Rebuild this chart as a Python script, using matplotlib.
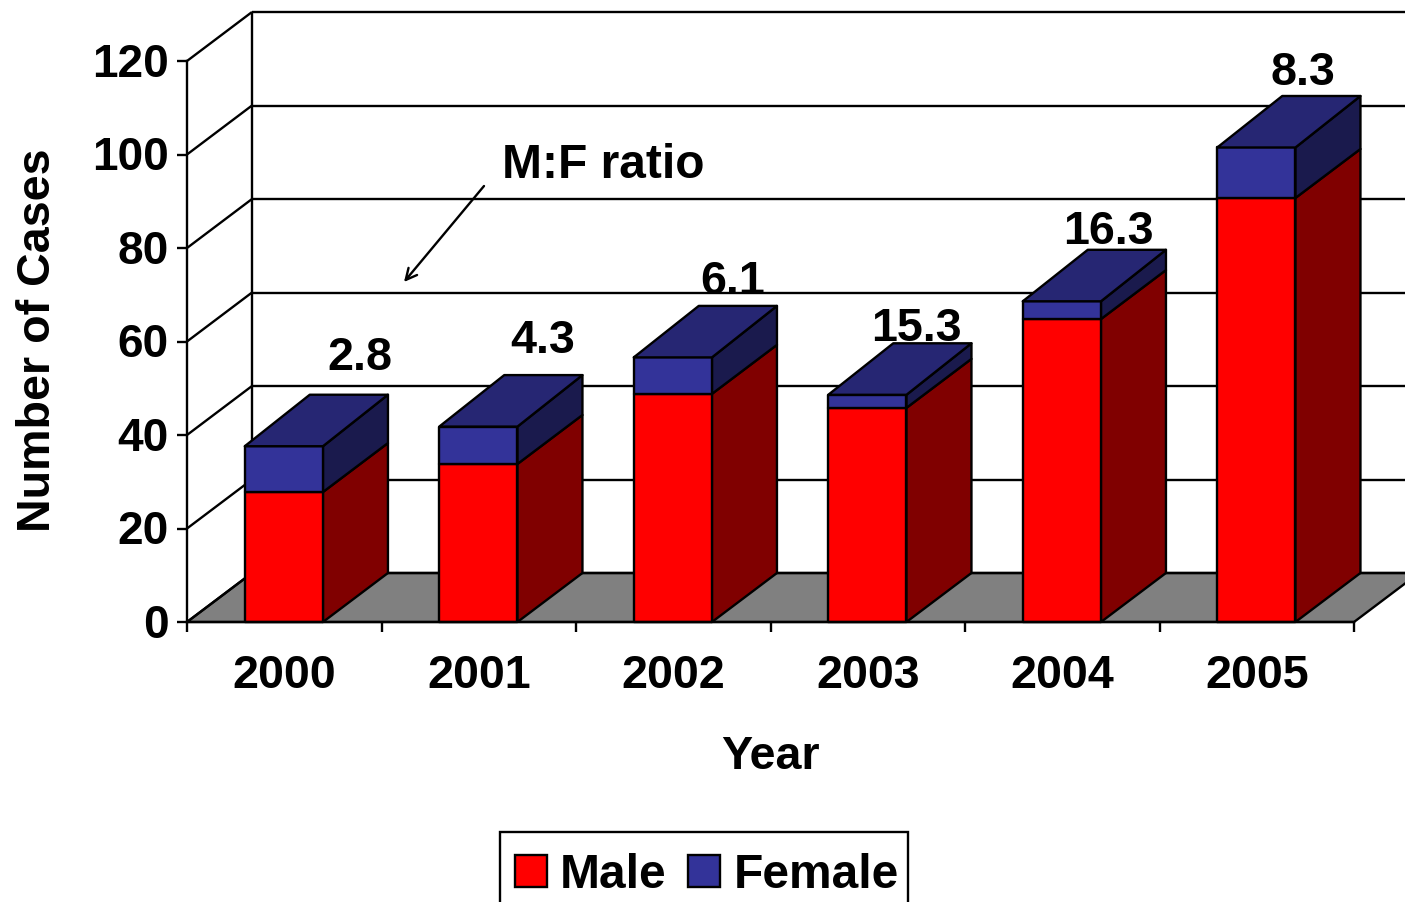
import matplotlib
matplotlib.use("Agg")
import matplotlib.pyplot as plt
from matplotlib.patches import Polygon, Patch, Rectangle
from matplotlib.transforms import ScaledTranslation

plt.rcParams['font.family'] = ['Liberation Sans', 'DejaVu Sans']
plt.rcParams['font.weight'] = 'bold'

years = ['2000', '2001', '2002', '2003', '2004', '2005']
male = [27.8, 33.8, 48.8, 45.8, 64.8, 90.7]
female = [9.8, 8, 7.8, 2.8, 3.8, 10.8]
ratios = ['2.8', '4.3', '6.1', '15.3', '16.3', '8.3']
y_ticks = [0, 20, 40, 60, 80, 100, 120]

W, H = 1405, 902
FS = 33.6
LW = 1.7
DX, DY = 65 / 194.5, 49 / 4.675
DY_TOP = 51.5 / 4.675
BAR_L, BAR_W = 0.297, 0.402
LABEL_X = [0.889, 0.829, 0.805, 0.75, 0.737, 0.738]
LABEL_DY = [18.8, 18.3, 16.2, 14.0, 14.8, 16.0]

fig = plt.figure(figsize=(W / 100, H / 100), dpi=100, facecolor='white')
ax = fig.add_axes([187 / W, (H - 622) / H, (1354 - 187) / W, 561 / H])
ax.set_xlim(0, 6)
ax.set_ylim(0, 120)
ax.patch.set_visible(False)
for s in ('top', 'right'):
    ax.spines[s].set_visible(False)
for s in ('left', 'bottom'):
    ax.spines[s].set_linewidth(LW)
    ax.spines[s].set_zorder(12)

ax.set_yticks(y_ticks)
ax.set_yticklabels([str(v) for v in y_ticks], fontsize=33, fontweight='bold')
ax.tick_params(axis='y', length=7, width=LW, pad=6)
for lab in ax.get_yticklabels():
    lab.set_transform(lab.get_transform() + ScaledTranslation(0, 0.8 / 72, fig.dpi_scale_trans))
ax.set_xticks(range(7))
ax.set_xticklabels([])
ax.tick_params(axis='x', length=7, width=LW)
ax.set_xticks([i + 0.5 for i in range(6)], minor=True)
ax.set_xticklabels(years, minor=True, fontsize=FS, fontweight='bold')
ax.tick_params(axis='x', which='minor', length=0, pad=23)


def poly(pts, fc, z):
    ax.add_patch(Polygon(pts, closed=True, facecolor=fc, edgecolor='black',
                         linewidth=LW, clip_on=False, zorder=z, joinstyle='round'))


def line(xs, ys, z=1):
    ax.plot(xs, ys, color='black', lw=LW, clip_on=False, zorder=z,
            solid_capstyle='butt')


# floor
poly([(0, 0), (DX, DY), (6 + DX, DY), (6, 0)], '#808080', 1)

# walls
for v in y_ticks:
    line([0, DX], [v, v + DY])
    line([DX, 6 + DX], [v + DY, v + DY])
line([DX, DX], [DY, 120 + DY])

# ratio labels, behind the bars
for i, r in enumerate(ratios):
    ax.text(i + LABEL_X[i], male[i] + female[i] + LABEL_DY[i], r, fontsize=FS,
            fontweight='bold', ha='center', va='center', zorder=2, clip_on=False)


def block(i, lo, hi, front, side, top, z):
    x0, x1 = i + BAR_L, i + BAR_L + BAR_W
    d_hi = DY_TOP if top else DY
    poly([(x1, lo), (x1 + DX, lo + DY), (x1 + DX, hi + d_hi), (x1, hi)], side, z)
    poly([(x0, lo), (x1, lo), (x1, hi), (x0, hi)], front, z)
    if top:
        poly([(x0, hi), (x0 + DX, hi + d_hi), (x1 + DX, hi + d_hi), (x1, hi)], top, z)


for i in range(6):
    z = 3 + i
    block(i, 0, male[i], '#FF0000', '#800000', None, z)
    block(i, male[i], male[i] + female[i], '#333399', '#1A1A4D', '#262673', z)

# text and arrow in figure pixels
fig.text(38 / W, 1 - 340 / H, 'Number of Cases', fontsize=FS, fontweight='bold',
         rotation=90, ha='center', va='center')
fig.text(770 / W, 1 - 757 / H, 'Year', fontsize=FS, fontweight='bold',
         ha='center', va='center')
fig.text(502 / W, 1 - 165 / H, 'M:F ratio', fontsize=34.5, fontweight='bold',
         ha='left', va='center')
ax.annotate('', xy=(404 / W, 1 - 282 / H), xytext=(484 / W, 1 - 186 / H),
            xycoords='figure fraction', textcoords='figure fraction',
            arrowprops=dict(arrowstyle='->,head_length=0.8,head_width=0.4',
                            color='black', lw=1.7, shrinkA=0, shrinkB=0), zorder=14)

# legend box runs off the bottom of the figure
fig.add_artist(Rectangle((500 / W, 1 - 910 / H), 408 / W, 78 / H, transform=fig.transFigure,
                         facecolor='white', edgecolor='black', linewidth=LW))
leg = fig.legend(handles=[Patch(facecolor='#FF0000', edgecolor='black', lw=LW, label='Male'),
                          Patch(facecolor='#333399', edgecolor='black', lw=LW, label='Female')],
                 loc='center left', bbox_to_anchor=(515 / W, 1 - 875 / H),
                 bbox_transform=fig.transFigure, ncol=2, fontsize=34.5, frameon=False,
                 borderaxespad=0, borderpad=0, handlelength=0.66, handleheight=0.66,
                 handletextpad=0.28, columnspacing=0.45)

fig.savefig('out.png', dpi=100, facecolor='white')
